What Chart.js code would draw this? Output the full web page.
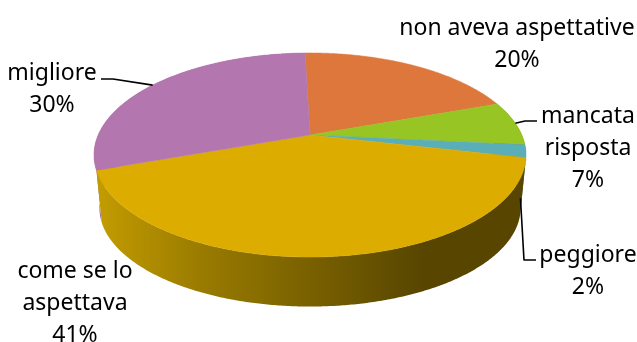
<!DOCTYPE html>
<html lang="it">
<head>
<meta charset="utf-8">
<title>Grafico a torta</title>
<style>
  html, body { margin: 0; padding: 0; background: #fff; }
  canvas { display: block; }
</style>
<script src="https://cdn.jsdelivr.net/npm/chart.js@4"></script>
</head>
<body>
<canvas id="torta" width="637" height="342"></canvas>
<script>
const categories = ["non aveva aspettative", "mancata risposta", "peggiore", "come se lo aspettava", "migliore"];
const values = [20, 7, 2, 41, 30];
const sliceColors = ["#DD773B", "#97C523", "#59AEB8", "#DCAC00", "#B376AE"];

// Text layout of each outer label: centre x, middle y of the first line, wrapped lines
const labelLines = [
  { x: 517, y: 28, lines: ["non aveva aspettative"] },
  { x: 588, y: 116, lines: ["mancata", "risposta"] },
  { x: 588, y: 255, lines: ["peggiore"] },
  { x: 75, y: 271, lines: ["come se lo", "aspettava"] },
  { x: 52, y: 73, lines: ["migliore"] }
];

// Perspective of the tilted disc
const view = { stretchX: 1.569, stretchY: 0.7267, tilt: 0.196 };
// Lower rim of the extruded pie, relative to the upper rim
const base = { scaleX: 0.975, scaleY: 0.966, topCentreY: 155, centreY: 208 };

function rimPoint(arc, angle) {
  const dx = Math.cos(angle), dy = Math.sin(angle);
  const w = 1 - view.tilt * dy;
  return {
    x: arc.x + arc.outerRadius * view.stretchX * dx / w,
    y: arc.y + arc.outerRadius * view.stretchY * dy / w
  };
}

function basePoint(arc, angle) {
  const p = rimPoint(arc, angle);
  return {
    x: arc.x + (p.x - arc.x) * base.scaleX,
    y: base.centreY + (p.y - base.topCentreY) * base.scaleY
  };
}

function sampleAngles(a0, a1) {
  const n = Math.max(2, Math.ceil((a1 - a0) / (Math.PI / 360)));
  const out = [];
  for (let i = 0; i <= n; i++) out.push(a0 + (a1 - a0) * i / n);
  return out;
}

function drawSide(ctx, arc, fill) {
  const angles = sampleAngles(arc.startAngle, arc.endAngle);
  ctx.beginPath();
  angles.forEach((a, i) => {
    const p = rimPoint(arc, a);
    i ? ctx.lineTo(p.x, p.y) : ctx.moveTo(p.x, p.y);
  });
  angles.slice().reverse().forEach(a => {
    const p = basePoint(arc, a);
    ctx.lineTo(p.x, p.y);
  });
  ctx.closePath();
  ctx.fillStyle = fill;
  ctx.fill();
}

function drawTop(ctx, arc, fill) {
  ctx.beginPath();
  ctx.moveTo(arc.x, arc.y);
  sampleAngles(arc.startAngle, arc.endAngle).forEach(a => {
    const p = rimPoint(arc, a);
    ctx.lineTo(p.x, p.y);
  });
  ctx.closePath();
  ctx.fillStyle = fill;
  ctx.strokeStyle = fill;
  ctx.lineWidth = 0.5;
  ctx.fill();
  ctx.stroke();
}

function sideGradient(ctx) {
  const g = ctx.createLinearGradient(100, 0, 520, 0);
  g.addColorStop(0, "#C29B00");
  g.addColorStop(0.25, "#987A00");
  g.addColorStop(0.476, "#7C6300");
  g.addColorStop(0.714, "#5E4B00");
  g.addColorStop(0.786, "#574500");
  g.addColorStop(1, "#574500");
  return g;
}

const tiltedPie = {
  id: "tiltedPie",
  // The library computes every slice angle; the slices are then projected onto the tilted disc.
  beforeDatasetDraw(chart) {
    const ctx = chart.ctx;
    const arcs = chart.getDatasetMeta(0).data;
    ctx.save();
    // Back-to-front: purple sliver on the left first, then the visible front walls
    drawSide(ctx, arcs[4], "#A66FA2");
    drawSide(ctx, arcs[1], "#5F7C16");
    drawSide(ctx, arcs[2], "#387078");
    drawSide(ctx, arcs[3], sideGradient(ctx));
    arcs.forEach((arc, i) => drawTop(ctx, arc, sliceColors[i]));
    ctx.restore();
    return false;
  },
  afterDatasetsDraw(chart) {
    const ctx = chart.ctx;
    const arcs = chart.getDatasetMeta(0).data;
    const mid = a => (a.startAngle + a.endAngle) / 2;

    ctx.save();
    ctx.strokeStyle = "#000";
    ctx.lineWidth = 1.6;
    ctx.lineJoin = "round";

    // Leader lines from a slice to its label
    const p4 = rimPoint(arcs[4], mid(arcs[4]));
    ctx.beginPath();
    ctx.moveTo(p4.x, p4.y);
    ctx.lineTo(113, 79);
    ctx.lineTo(101, 79);
    ctx.stroke();

    const p1 = rimPoint(arcs[1], mid(arcs[1]));
    ctx.beginPath();
    ctx.moveTo(p1.x, p1.y);
    ctx.lineTo(525, 121);
    ctx.lineTo(537, 121);
    ctx.stroke();

    const b2 = basePoint(arcs[2], mid(arcs[2]));
    ctx.beginPath();
    ctx.moveTo(b2.x, b2.y - 6);
    ctx.lineTo(524, 260);
    ctx.lineTo(536, 260);
    ctx.stroke();

    // Category name and percentage of each slice
    ctx.fillStyle = "#000";
    ctx.font = "23px 'Noto Sans', 'Open Sans', sans-serif";
    ctx.textAlign = "center";
    ctx.textBaseline = "middle";
    labelLines.forEach((lab, i) => {
      [...lab.lines, values[i] + "%"].forEach((text, j) => {
        ctx.fillText(text, lab.x, lab.y + j * 32);
      });
    });
    ctx.restore();
  }
};

new Chart(document.getElementById("torta"), {
  type: "pie",
  data: {
    labels: categories,
    datasets: [{ data: values, backgroundColor: sliceColors, borderWidth: 0 }]
  },
  options: {
    responsive: false,
    animation: false,
    rotation: -1.6,
    layout: { padding: { left: 0, right: 17, top: 0, bottom: 72 } },
    plugins: { legend: { display: false }, tooltip: { enabled: false } }
  },
  plugins: [tiltedPie]
});
</script>
</body>
</html>
